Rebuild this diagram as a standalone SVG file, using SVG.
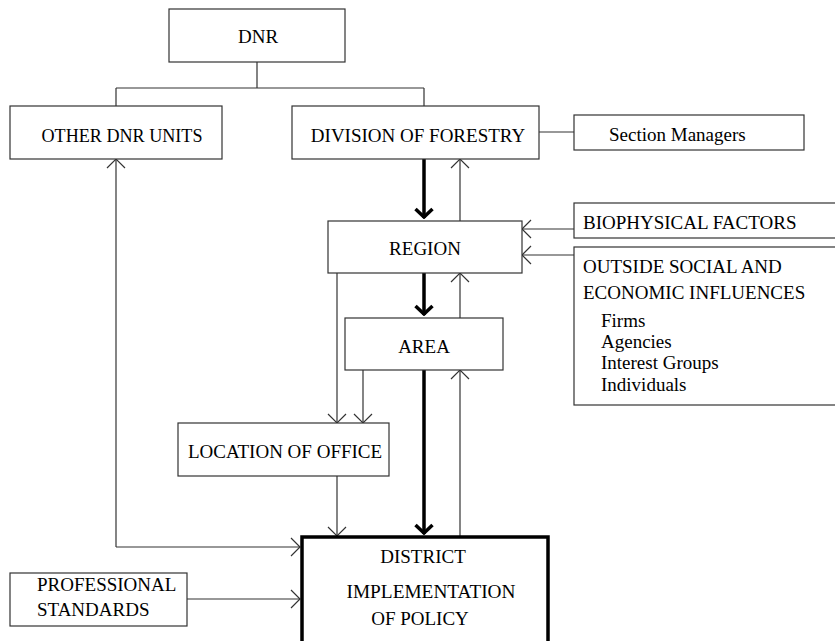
<svg xmlns="http://www.w3.org/2000/svg" width="835" height="641" viewBox="0 0 835 641">
<style>
.box{fill:#fff;stroke:#333;stroke-width:1.2}
.thickbox{fill:#fff;stroke:#000;stroke-width:3.5}
.t{font-family:'Liberation Serif',serif;font-size:19px;fill:#000}
.c{text-anchor:middle}
.ln{fill:none;stroke:#333;stroke-width:1.2}
.thk{fill:none;stroke:#000;stroke-width:3.5}
</style>
<defs>
<marker id="open" viewBox="-11 -11 13 22" refX="0" refY="0" markerWidth="13" markerHeight="22" markerUnits="userSpaceOnUse" orient="auto">
<path d="M-9,-9 L0,0 L-9,9" fill="none" stroke="#333" stroke-width="1.2"/>
</marker>
<marker id="bold" viewBox="-12 -12 14 24" refX="1" refY="0" markerWidth="14" markerHeight="24" markerUnits="userSpaceOnUse" orient="auto">
<path d="M-8,-8.5 L0,0 L-8,8.5" fill="none" stroke="#000" stroke-width="3.5"/>
</marker>
</defs>

<g id="connectors">
<path class="ln" d="M257,62 V88 M116,88 H424 M116,88 V106 M424,88 V106"/>
<path class="ln" d="M539,132 H574"/>
<path class="thk" d="M424,159 V218" marker-end="url(#bold)"/>
<path class="ln" d="M460,221 V159" marker-end="url(#open)"/>
<path class="ln" d="M574,229 H522" marker-end="url(#open)"/>
<path class="ln" d="M574,255 H522" marker-end="url(#open)"/>
<path class="thk" d="M424,273 V315" marker-end="url(#bold)"/>
<path class="ln" d="M460,318 V273" marker-end="url(#open)"/>
<path class="thk" d="M424,370 V534" marker-end="url(#bold)"/>
<path class="ln" d="M460,536 V370" marker-end="url(#open)"/>
<path class="ln" d="M337,273 V423" marker-end="url(#open)"/>
<path class="ln" d="M363,370 V423" marker-end="url(#open)"/>
<path class="ln" d="M337,476 V536" marker-end="url(#open)"/>
<path class="ln" d="M116,547 V159" marker-end="url(#open)"/>
<path class="ln" d="M116,547 H300" marker-end="url(#open)"/>
<path class="ln" d="M187,599 H300" marker-end="url(#open)"/>
</g>

<g id="dnr">
<rect class="box" x="169" y="9" width="176" height="53"/>
<text class="t c" x="258" y="43">DNR</text>
</g>
<g id="other-dnr-units">
<rect class="box" x="10" y="106" width="212" height="53"/>
<text class="t c" x="122" y="142" textLength="161" lengthAdjust="spacingAndGlyphs">OTHER DNR UNITS</text>
</g>
<g id="division-of-forestry">
<rect class="box" x="292" y="106" width="247" height="53"/>
<text class="t c" x="418" y="142">DIVISION OF FORESTRY</text>
</g>
<g id="section-managers">
<rect class="box" x="574" y="115" width="230" height="35"/>
<text class="t" x="609" y="141">Section Managers</text>
</g>
<g id="region">
<rect class="box" x="328" y="221" width="194" height="52"/>
<text class="t c" x="425" y="255">REGION</text>
</g>
<g id="biophysical-factors">
<rect class="box" x="574" y="203" width="270" height="35"/>
<text class="t" x="583" y="229">BIOPHYSICAL FACTORS</text>
</g>
<g id="outside-influences">
<rect class="box" x="574" y="247" width="270" height="158"/>
<text class="t" x="583" y="273">OUTSIDE SOCIAL AND</text>
<text class="t" x="583" y="299">ECONOMIC INFLUENCES</text>
<text class="t" x="601" y="327">Firms</text>
<text class="t" x="601" y="348">Agencies</text>
<text class="t" x="601" y="369">Interest Groups</text>
<text class="t" x="601" y="391">Individuals</text>
</g>
<g id="area">
<rect class="box" x="345" y="318" width="158" height="52"/>
<text class="t c" x="424" y="353">AREA</text>
</g>
<g id="location-of-office">
<rect class="box" x="178" y="423" width="211" height="53"/>
<text class="t c" x="285" y="458">LOCATION OF OFFICE</text>
</g>
<g id="professional-standards">
<rect class="box" x="10" y="573" width="177" height="53"/>
<text class="t" x="37" y="591">PROFESSIONAL</text>
<text class="t" x="37" y="616">STANDARDS</text>
</g>
<g id="district">
<rect class="thickbox" x="302" y="537" width="246" height="130"/>
<text class="t c" x="423" y="563">DISTRICT</text>
<text class="t c" x="431" y="598" textLength="169" lengthAdjust="spacingAndGlyphs">IMPLEMENTATION</text>
<text class="t c" x="420" y="625">OF POLICY</text>
</g>
</svg>
